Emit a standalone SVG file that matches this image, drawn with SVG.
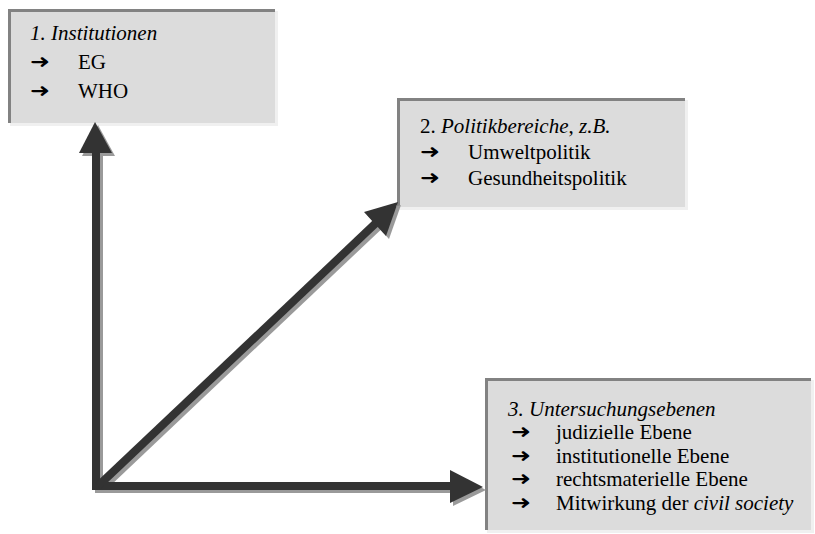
<svg xmlns="http://www.w3.org/2000/svg" width="815" height="534" viewBox="0 0 815 534">
<style>
.box{fill:#dcdcdc}
.hi{fill:#f0f0f0}
.edge{fill:#828282}
.t{font-family:'Liberation Serif','DejaVu Serif',serif;font-size:21px;fill:#000}
.it{font-style:italic}
.bul{font-family:'DejaVu Sans',sans-serif;font-size:19px;font-weight:bold;fill:#000}
.shaft{stroke:#333;stroke-width:8;fill:none;stroke-linecap:butt}
.shaft-sh{stroke:#9a9a9a;stroke-width:8;fill:none}
.head{fill:#333}
.head-sh{fill:#9a9a9a}
</style>
<rect width="815" height="534" fill="#fff"/>

<g id="node1">
<rect class="hi" x="10" y="11" width="268" height="115"/>
<rect class="box" x="8" y="9" width="267" height="114"/>
<rect class="edge" x="8" y="9" width="267" height="3"/>
<rect class="edge" x="8" y="9" width="3" height="114"/>
<text class="t it" x="30" y="40">1. Institutionen</text>
<text class="bul" x="30" y="68" textLength="20" lengthAdjust="spacingAndGlyphs">➜</text><text class="t" x="78" y="69">EG</text>
<text class="bul" x="30" y="97" textLength="20" lengthAdjust="spacingAndGlyphs">➜</text><text class="t" x="78" y="98">WHO</text>
</g>

<g id="node2">
<rect class="hi" x="399" y="100" width="289" height="110"/>
<rect class="box" x="397" y="98" width="288" height="109"/>
<rect class="edge" x="397" y="98" width="288" height="3"/>
<rect class="edge" x="397" y="98" width="3" height="109"/>
<text class="t" x="420" y="133">2. <tspan class="it">Politikbereiche</tspan>, <tspan class="it">z.B.</tspan></text>
<text class="bul" x="420" y="158" textLength="20" lengthAdjust="spacingAndGlyphs">➜</text><text class="t" x="468" y="159">Umweltpolitik</text>
<text class="bul" x="420" y="184" textLength="20" lengthAdjust="spacingAndGlyphs">➜</text><text class="t" x="468" y="185">Gesundheitspolitik</text>
</g>

<g id="node3">
<rect class="hi" x="487" y="380" width="327" height="153"/>
<rect class="box" x="485" y="378" width="326" height="152"/>
<rect class="edge" x="485" y="378" width="326" height="3"/>
<rect class="edge" x="485" y="378" width="3" height="152"/>
<text class="t it" x="508" y="416">3. Untersuchungsebenen</text>
<text class="bul" x="511" y="438" textLength="20" lengthAdjust="spacingAndGlyphs">➜</text><text class="t" x="556" y="439">judizielle Ebene</text>
<text class="bul" x="511" y="462" textLength="20" lengthAdjust="spacingAndGlyphs">➜</text><text class="t" x="556" y="463">institutionelle Ebene</text>
<text class="bul" x="511" y="485" textLength="20" lengthAdjust="spacingAndGlyphs">➜</text><text class="t" x="556" y="486">rechtsmaterielle Ebene</text>
<text class="bul" x="511" y="509" textLength="20" lengthAdjust="spacingAndGlyphs">➜</text><text class="t" x="556" y="510">Mitwirkung der <tspan class="it">civil society</tspan></text>
</g>

<g id="connectors">
<g transform="translate(3,3)">
<path class="shaft-sh" d="M96 490 V150"/>
<polygon class="head-sh" points="95,122 112,153 79,153"/>
<path class="shaft-sh" d="M92 486 H452"/>
<polygon class="head-sh" points="483,487 450,470 450,503"/>
<path class="shaft-sh" d="M98 486 L377 222"/>
<polygon class="head-sh" points="398,202 386,236 364,212"/>
</g>
<path class="shaft" d="M96 490 V150"/>
<polygon class="head" points="95,122 112,153 79,153"/>
<path class="shaft" d="M92 486 H452"/>
<polygon class="head" points="483,487 450,470 450,503"/>
<path class="shaft" d="M98 486 L377 222"/>
<polygon class="head" points="398,202 386,236 364,212"/>
</g>
</svg>
